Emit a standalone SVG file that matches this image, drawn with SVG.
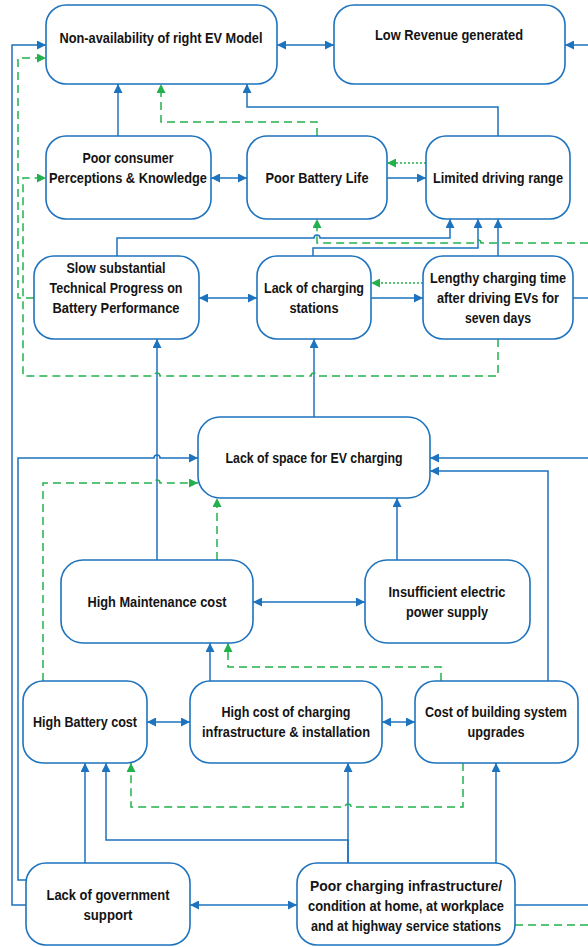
<svg xmlns="http://www.w3.org/2000/svg" width="588" height="947" viewBox="0 0 588 947">
<style>
.n rect{fill:#fff;stroke:#1e73be;stroke-width:1.6}
.n text{font-family:"Liberation Sans",Arial,sans-serif;font-weight:bold;font-size:14px;fill:#141414;text-anchor:middle}
.b{fill:none;stroke:#1e73be;stroke-width:1.5}
.g{fill:none;stroke:#22b14c;stroke-width:1.5;stroke-dasharray:8,5}
.d{fill:none;stroke:#22b14c;stroke-width:1.5;stroke-dasharray:2,2}
</style>
<defs>
<marker id="ab" viewBox="0 0 10 10" refX="10" refY="5" markerWidth="9" markerHeight="9" markerUnits="userSpaceOnUse" orient="auto-start-reverse"><path d="M0,0 L10,5 L0,10 z" fill="#1e73be"/></marker>
<marker id="ag" viewBox="0 0 10 10" refX="10" refY="5" markerWidth="9" markerHeight="9" markerUnits="userSpaceOnUse" orient="auto-start-reverse"><path d="M0,0 L10,5 L0,10 z" fill="#22b14c"/></marker>
</defs>
<g id="connectors">
<path class="b" d="M277,45 H334" marker-start="url(#ab)" marker-end="url(#ab)"/>
<path class="b" d="M588,45 H565" marker-end="url(#ab)"/>
<path class="b" d="M573,298 H588"/>
<path class="b" d="M26,905 H12 V45 H46" marker-end="url(#ab)"/>
<path class="b" d="M27,880 H18 V458 H154 a3,3 0 0 1 6,0 H198" marker-end="url(#ab)"/>
<path class="b" d="M118,136 V84" marker-end="url(#ab)"/>
<path class="b" d="M498,136 V107 H247 V84" marker-end="url(#ab)"/>
<path class="b" d="M211,178 H247" marker-start="url(#ab)" marker-end="url(#ab)"/>
<path class="b" d="M387,178 H426" marker-end="url(#ab)"/>
<path class="b" d="M117,256 V238 H314 a3,3 0 0 1 6,0 H450 V219" marker-end="url(#ab)"/>
<path class="b" d="M313,256 V248 H478 V219" marker-end="url(#ab)"/>
<path class="b" d="M498,256 V219" marker-end="url(#ab)"/>
<path class="b" d="M199,298 H257" marker-start="url(#ab)" marker-end="url(#ab)"/>
<path class="b" d="M371,298 H423" marker-end="url(#ab)"/>
<path class="b" d="M314,417 V339" marker-end="url(#ab)"/>
<path class="b" d="M157,560 V339" marker-end="url(#ab)"/>
<path class="b" d="M588,458 H430" marker-end="url(#ab)"/>
<path class="b" d="M548,681 V471 H430" marker-end="url(#ab)"/>
<path class="b" d="M397,560 V498" marker-end="url(#ab)"/>
<path class="b" d="M253,602 H365" marker-start="url(#ab)" marker-end="url(#ab)"/>
<path class="b" d="M210,681 V643" marker-end="url(#ab)"/>
<path class="b" d="M147,722 H190" marker-start="url(#ab)" marker-end="url(#ab)"/>
<path class="b" d="M382,722 H415" marker-start="url(#ab)" marker-end="url(#ab)"/>
<path class="b" d="M85,863 V763" marker-end="url(#ab)"/>
<path class="b" d="M348,863 V840 H106 V763" marker-end="url(#ab)"/>
<path class="b" d="M348,863 V763" marker-end="url(#ab)"/>
<path class="b" d="M496,863 V763" marker-end="url(#ab)"/>
<path class="b" d="M190,905 H297" marker-start="url(#ab)" marker-end="url(#ab)"/>
<path class="b" d="M515,905 H588"/>
<path class="g" d="M317,136 V122 H161 V84" marker-end="url(#ag)"/>
<path class="g" d="M34,298 H18 V58 H46" marker-end="url(#ag)"/>
<path class="g" d="M498,339 V376 H317 a3,3 0 0 0 -6,0 H160 a3,3 0 0 0 -6,0 H23 V178 H46" marker-end="url(#ag)"/>
<path class="g" d="M515,925 H588"/>
<path class="g" d="M588,243 H481 a3,3 0 0 0 -6,0 H317 V219" marker-end="url(#ag)"/>
<path class="g" d="M43,681 V483 H154 a3,3 0 0 1 6,0 H198" marker-end="url(#ag)"/>
<path class="g" d="M217,560 V498" marker-end="url(#ag)"/>
<path class="g" d="M441,681 V667 H228 V643" marker-end="url(#ag)"/>
<path class="g" d="M463,763 V807 H351 a3,3 0 0 0 -6,0 H131 V763" marker-end="url(#ag)"/>
<path class="d" d="M426,163 H387" marker-end="url(#ag)"/>
<path class="d" d="M423,283 H371" marker-end="url(#ag)"/>
</g>
<g id="n1" class="n"><rect x="46" y="5" width="231" height="79" rx="20"/><text x="161" y="43" textLength="203" lengthAdjust="spacingAndGlyphs">Non-availability of right EV Model</text></g>
<g id="n2" class="n"><rect x="334" y="5" width="231" height="79" rx="20"/><text x="449" y="40" textLength="148" lengthAdjust="spacingAndGlyphs">Low Revenue generated</text></g>
<g id="n3" class="n"><rect x="46" y="136" width="165" height="83" rx="20"/><text x="128" y="163" textLength="91" lengthAdjust="spacingAndGlyphs">Poor consumer</text><text x="128" y="183" textLength="158" lengthAdjust="spacingAndGlyphs">Perceptions &amp; Knowledge</text></g>
<g id="n4" class="n"><rect x="247" y="136" width="140" height="83" rx="20"/><text x="317" y="183" textLength="103" lengthAdjust="spacingAndGlyphs">Poor Battery Life</text></g>
<g id="n5" class="n"><rect x="426" y="136" width="144" height="83" rx="20"/><text x="498" y="183" textLength="130" lengthAdjust="spacingAndGlyphs">Limited driving range</text></g>
<g id="n6" class="n"><rect x="34" y="256" width="165" height="83" rx="20"/><text x="116" y="273" textLength="99" lengthAdjust="spacingAndGlyphs">Slow substantial</text><text x="116" y="293" textLength="133" lengthAdjust="spacingAndGlyphs">Technical Progress on</text><text x="116" y="313" textLength="127" lengthAdjust="spacingAndGlyphs">Battery Performance</text></g>
<g id="n7" class="n"><rect x="257" y="256" width="114" height="83" rx="20"/><text x="314" y="293" textLength="100" lengthAdjust="spacingAndGlyphs">Lack of charging</text><text x="314" y="313" textLength="49" lengthAdjust="spacingAndGlyphs">stations</text></g>
<g id="n8" class="n"><rect x="423" y="256" width="150" height="83" rx="20"/><text x="498" y="283" textLength="136" lengthAdjust="spacingAndGlyphs">Lengthy charging time</text><text x="498" y="303" textLength="122" lengthAdjust="spacingAndGlyphs">after driving EVs for</text><text x="498" y="323" textLength="66" lengthAdjust="spacingAndGlyphs">seven days</text></g>
<g id="n9" class="n"><rect x="198" y="417" width="232" height="81" rx="22"/><text x="314" y="463" textLength="177" lengthAdjust="spacingAndGlyphs">Lack of space for EV charging</text></g>
<g id="n10" class="n"><rect x="61" y="560" width="192" height="83" rx="22"/><text x="157" y="607" textLength="139" lengthAdjust="spacingAndGlyphs">High Maintenance cost</text></g>
<g id="n11" class="n"><rect x="365" y="560" width="165" height="83" rx="22"/><text x="447" y="597" textLength="117" lengthAdjust="spacingAndGlyphs">Insufficient electric</text><text x="447" y="617" textLength="82" lengthAdjust="spacingAndGlyphs">power supply</text></g>
<g id="n12" class="n"><rect x="23" y="681" width="124" height="82" rx="20"/><text x="85" y="727" textLength="104" lengthAdjust="spacingAndGlyphs">High Battery cost</text></g>
<g id="n13" class="n"><rect x="190" y="681" width="192" height="82" rx="20"/><text x="286" y="717" textLength="129" lengthAdjust="spacingAndGlyphs">High cost of charging</text><text x="286" y="737" textLength="168" lengthAdjust="spacingAndGlyphs">infrastructure &amp; installation</text></g>
<g id="n14" class="n"><rect x="415" y="681" width="163" height="82" rx="20"/><text x="496" y="717" textLength="142" lengthAdjust="spacingAndGlyphs">Cost of building system</text><text x="496" y="737" textLength="57" lengthAdjust="spacingAndGlyphs">upgrades</text></g>
<g id="n15" class="n"><rect x="26" y="863" width="164" height="82" rx="20"/><text x="108" y="900" textLength="123" lengthAdjust="spacingAndGlyphs">Lack of government</text><text x="108" y="920" textLength="49" lengthAdjust="spacingAndGlyphs">support</text></g>
<g id="n16" class="n"><rect x="297" y="863" width="218" height="82" rx="20"/><text x="406" y="891" textLength="192" lengthAdjust="spacingAndGlyphs">Poor charging infrastructure/</text><text x="406" y="911" textLength="196" lengthAdjust="spacingAndGlyphs">condition at home, at workplace</text><text x="406" y="931" textLength="190" lengthAdjust="spacingAndGlyphs">and at highway service stations</text></g>
</svg>
